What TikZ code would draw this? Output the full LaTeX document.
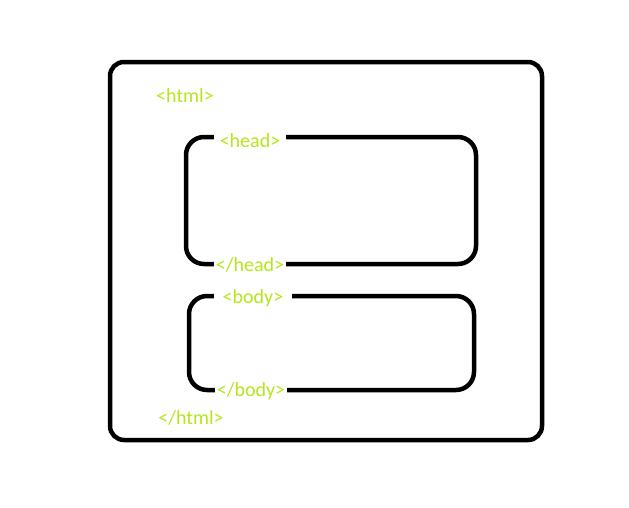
\documentclass[tikz,border=0pt]{standalone}
\usepackage{fontspec}
\setmainfont{Carlito}
\definecolor{tagcol}{HTML}{B5E61D}
\begin{document}
\begin{tikzpicture}[x=1pt,y=-1pt,
  frame/.style={draw=black,line width=4.5pt,rounded corners=14pt},
  tag/.style={text=tagcol,font=\fontsize{20}{24}\selectfont,fill=white,inner sep=1.5pt}]
\useasboundingbox (0,0) rectangle (629,507);
\draw[frame] (110,62) rectangle (542,440);
\draw[frame,rounded corners=18pt] (186,137) rectangle (476,264);
\draw[frame,rounded corners=18pt] (189,296) rectangle (474,390);
\node[tag,fill=none] (html) at (185,95.5) {<html>};
\node[tag,fill=none] (ehtml) at (191,417.5) {</html>};
\node[tag,minimum width=72pt] (head) at (250,140.5) {<head>};
\node[tag] (ehead) at (250,264.5) {</head>};
\node[tag,minimum width=78pt] (body) at (253,298.5) {<body>};
\node[tag] (ebody) at (251,391.5) {</body>};
\end{tikzpicture}
\end{document}
